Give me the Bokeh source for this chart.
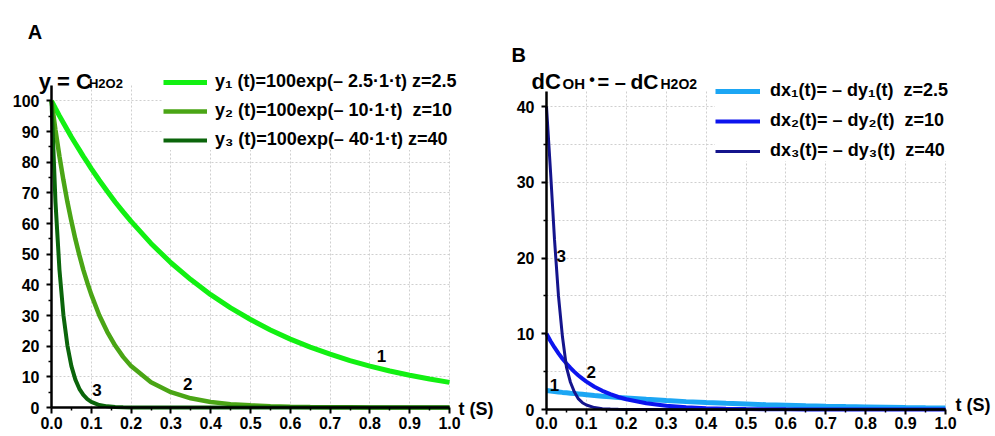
from bokeh.plotting import figure
from bokeh.models import Range1d, FixedTicker, PrintfTickFormatter, Label, Legend, LegendItem
from bokeh.layouts import row
from bokeh.embed import file_html
from bokeh.resources import INLINE

# ---------------- data ----------------
T = [0.00, 0.01, 0.02, 0.03, 0.04, 0.05, 0.06, 0.07, 0.08, 0.09, 0.10, 0.12, 0.14, 0.16,
     0.18, 0.20, 0.25, 0.30, 0.35, 0.40, 0.45, 0.50, 0.55, 0.60, 0.65, 0.70, 0.75, 0.80,
     0.85, 0.90, 0.95, 1.00]

Y1 = [100, 97.5, 95.1, 92.8, 90.5, 88.2, 86.1, 84.0, 81.9, 79.9, 77.9, 74.1, 70.5, 67.0,
      63.8, 60.7, 53.5, 47.2, 41.7, 36.8, 32.5, 28.7, 25.3, 22.3, 19.7, 17.4, 15.3, 13.5,
      11.9, 10.5, 9.3, 8.2]
Y2 = [100, 90.5, 81.9, 74.1, 67.0, 60.7, 54.9, 49.7, 44.9, 40.7, 36.8, 30.1, 24.7, 20.2,
      16.5, 13.5, 8.2, 5.0, 3.0, 1.8, 1.1, 0.7, 0.4, 0.25, 0.15, 0.09, 0.06, 0.03,
      0.02, 0.01, 0.01, 0.0]
Y3 = [100, 67.0, 44.9, 30.1, 20.2, 13.5, 9.1, 6.1, 4.1, 2.7, 1.8, 0.8, 0.37, 0.17,
      0.07, 0.03, 0.0, 0.0, 0.0, 0.0, 0.0, 0.0, 0.0, 0.0, 0.0, 0.0, 0.0, 0.0,
      0.0, 0.0, 0.0, 0.0]

DX1 = [2.5, 2.44, 2.38, 2.32, 2.26, 2.21, 2.15, 2.10, 2.05, 2.00, 1.95, 1.85, 1.76, 1.68,
       1.59, 1.52, 1.34, 1.18, 1.04, 0.92, 0.81, 0.72, 0.63, 0.56, 0.49, 0.43, 0.38, 0.34,
       0.30, 0.26, 0.23, 0.21]
DX2 = [10.0, 9.05, 8.19, 7.41, 6.70, 6.07, 5.49, 4.97, 4.49, 4.07, 3.68, 3.01, 2.47, 2.02,
       1.65, 1.35, 0.82, 0.50, 0.30, 0.18, 0.11, 0.07, 0.04, 0.025, 0.015, 0.009, 0.006, 0.003,
       0.002, 0.001, 0.001, 0.0]
DX3 = [40.0, 31.5, 22.5, 15.0, 9.6, 5.6, 3.6, 2.3, 1.4, 0.9, 0.6, 0.25, 0.1, 0.05,
       0.02, 0.01, 0.0, 0.0, 0.0, 0.0, 0.0, 0.0, 0.0, 0.0, 0.0, 0.0, 0.0, 0.0,
       0.0, 0.0, 0.0, 0.0]

X_TICKS = [0.0, 0.1, 0.2, 0.3, 0.4, 0.5, 0.6, 0.7, 0.8, 0.9, 1.0]
X_MINOR = [0.05, 0.15, 0.25, 0.35, 0.45, 0.55, 0.65, 0.75, 0.85, 0.95]
LEFT_Y_TICKS = [0, 10, 20, 30, 40, 50, 60, 70, 80, 90, 100]
LEFT_Y_MINOR = [5, 15, 25, 35, 45, 55, 65, 75, 85, 95]
RIGHT_Y_TICKS = [0, 10, 20, 30, 40]
RIGHT_Y_MINOR = [5, 15, 25, 35]

LEFT_LABELS = ["y\u2081 (t)=100exp(\u2013 2.5\u00b71\u00b7t) z=2.5",
               "y\u2082 (t)=100exp(\u2013 10\u00b71\u00b7t)  z=10",
               "y\u2083 (t)=100exp(\u2013 40\u00b71\u00b7t) z=40"]
RIGHT_LABELS = ["dx\u2081(t)= \u2013 dy\u2081(t)  z=2.5",
                "dx\u2082(t)= \u2013 dy\u2082(t)  z=10",
                "dx\u2083(t)= \u2013 dy\u2083(t)  z=40"]
CURVE_NUMS = ["1", "2", "3"]

FONT = "Liberation Sans"
GREENS = ["#12f012", "#4aa515", "#0b650b"]
BLUES = ["#1ca6f4", "#0c14ee", "#14148c"]


def make_fig(W, H, px0, px1, py0, py1, xmax, ymax):
    """Frame fills the whole canvas; axes are pinned at x=0 / y=0.
    px0/px1: canvas x of data x=0 / x=xmax; py0/py1: canvas y (from top) of y=0 / y=ymax."""
    sx = (px1 - px0) / xmax
    sy = (py0 - py1) / ymax
    xr = Range1d(-px0 / sx, xmax + (W - px1) / sx)
    yr = Range1d(-(H - py0) / sy, ymax + py1 / sy)
    p = figure(width=W, height=H, title=None, x_range=xr, y_range=yr,
               output_backend="svg", toolbar_location=None,
               min_border=0, min_border_left=0, min_border_right=0,
               min_border_top=0, min_border_bottom=0)
    return p


def style(p, yticks, yminor, ymax, minor_grid, xtick_out, xstandoff):
    p.outline_line_color = None
    p.background_fill_color = "white"
    p.border_fill_color = "white"
    p.xaxis.ticker = FixedTicker(ticks=X_TICKS, minor_ticks=X_MINOR)
    p.xaxis.formatter = PrintfTickFormatter(format="%.1f")
    p.yaxis.ticker = FixedTicker(ticks=yticks, minor_ticks=yminor)
    p.xaxis.fixed_location = 0
    p.yaxis.fixed_location = 0
    p.xaxis.bounds = (0, 1)
    p.yaxis.bounds = (0, ymax)
    for ax in (p.xaxis[0], p.yaxis[0]):
        ax.axis_line_width = 2.5
        ax.axis_line_color = "black"
        ax.major_tick_line_width = 2
        ax.minor_tick_line_width = 1.5
        ax.major_tick_in = 0
        ax.minor_tick_in = 0
        ax.minor_tick_out = 3
        ax.major_label_text_font = FONT
        ax.major_label_text_font_size = "16px"
        ax.major_label_text_font_style = "bold"
        ax.major_label_text_color = "black"
    p.xaxis.major_tick_out = xtick_out
    p.xaxis.major_label_standoff = xstandoff
    p.yaxis.major_tick_out = 5
    p.yaxis.major_label_standoff = 7
    for g in (p.xgrid[0], p.ygrid[0]):
        g.grid_line_color = "#cfcfcf"
        g.grid_line_dash = "2 2"
        g.grid_line_width = 1
    p.xgrid.bounds = (0, 1)
    p.xgrid.cross_bounds = (0, ymax)
    p.ygrid.bounds = (0, ymax)
    p.ygrid.cross_bounds = (0, 1)
    if minor_grid:
        p.ygrid.minor_grid_line_color = "#cfcfcf"
        p.ygrid.minor_grid_line_dash = "2 2"
        p.ygrid.minor_grid_line_width = 1


def lab(p, x, y, text, size, align="left", baseline="alphabetic"):
    p.add_layout(Label(x=x, y=y, text=text, text_font=FONT, text_font_size=size,
                       text_font_style="bold", text_color="black",
                       text_align=align, text_baseline=baseline))


# ---------------- panel A ----------------
L_W, L_H, L_X0, L_X1, L_Y0, L_Y1 = 500, 436, 51, 449, 407, 85
p1 = make_fig(L_W, L_H, L_X0, L_X1, L_Y0, L_Y1, 1.0, 105)
style(p1, LEFT_Y_TICKS, LEFT_Y_MINOR, 105, False, 6, 3)
widths_l = [5, 4.5, 4]
rl = [p1.line(T, ys, line_color=c, line_width=w)
      for ys, c, w in zip([Y1, Y2, Y3], GREENS, widths_l)]
leg1 = Legend(items=[LegendItem(label=t, renderers=[r]) for t, r in zip(LEFT_LABELS, rl)],
              location=(163, L_H - 150), glyph_width=44, glyph_height=20,
              label_height=20, label_standoff=8, spacing=8, padding=3, margin=0,
              border_line_color=None, background_fill_color="white", background_fill_alpha=1,
              label_text_font=FONT, label_text_font_size="18px", label_text_font_style="bold",
              label_text_color="black")
p1.add_layout(leg1, "center")

lab(p1, -0.0595, 122.6, "A", "20px")
lab(p1, -0.032, 106.4, "y = C", "22px")
lab(p1, 0.094, 105.8, "H2O2", "13px")
lab(p1, 1.0226, -0.5, "t (S)", "18px", baseline="middle")
for txt, x, y in zip(CURVE_NUMS, [0.829, 0.342, 0.114], [16.8, 7.65, 5.7]):
    lab(p1, x, y, txt, "17px", align="center", baseline="middle")

# ---------------- panel B ----------------
R_W, R_H, R_X0, R_X1, R_Y0, R_Y1 = 495, 436, 46, 445, 409, 91
p2 = make_fig(R_W, R_H, R_X0, R_X1, R_Y0, R_Y1, 1.0, 42)
style(p2, RIGHT_Y_TICKS, RIGHT_Y_MINOR, 42, True, 5, 2)
widths_r = [5, 4, 3]
rr = [p2.line(T, ys, line_color=c, line_width=w)
      for ys, c, w in zip([DX1, DX2, DX3], BLUES, widths_r)]
leg2 = Legend(items=[LegendItem(label=t, renderers=[r]) for t, r in zip(RIGHT_LABELS, rr)],
              location=(215, R_H - 161), glyph_width=45, glyph_height=20,
              label_height=20, label_standoff=10, spacing=9, padding=3, margin=0,
              border_line_color=None, background_fill_color="white", background_fill_alpha=1,
              label_text_font=FONT, label_text_font_size="18px", label_text_font_style="bold",
              label_text_color="black")
p2.add_layout(leg2, "center")

lab(p2, -0.0877, 46.8, "B", "20px")
lab(p2, -0.0376, 43.3, "dC", "22px")
lab(p2, 0.040, 43.0, "OH", "15px")
lab(p2, 0.107, 43.55, "\u2022", "16px")
lab(p2, 0.128, 43.3, "= \u2013", "20px")
lab(p2, 0.2105, 43.3, "dC", "21px")
lab(p2, 0.2857, 43.0, "H2O2", "14px")
lab(p2, 1.025, 0.6, "t (S)", "18px", baseline="middle")
for txt, x, y in zip(CURVE_NUMS, [0.02, 0.112, 0.037], [3.27, 5.0, 20.3]):
    lab(p2, x, y, txt, "17px", align="center", baseline="middle")

layout = row(p1, p2)
open("out.html", "w").write(file_html(layout, INLINE))
